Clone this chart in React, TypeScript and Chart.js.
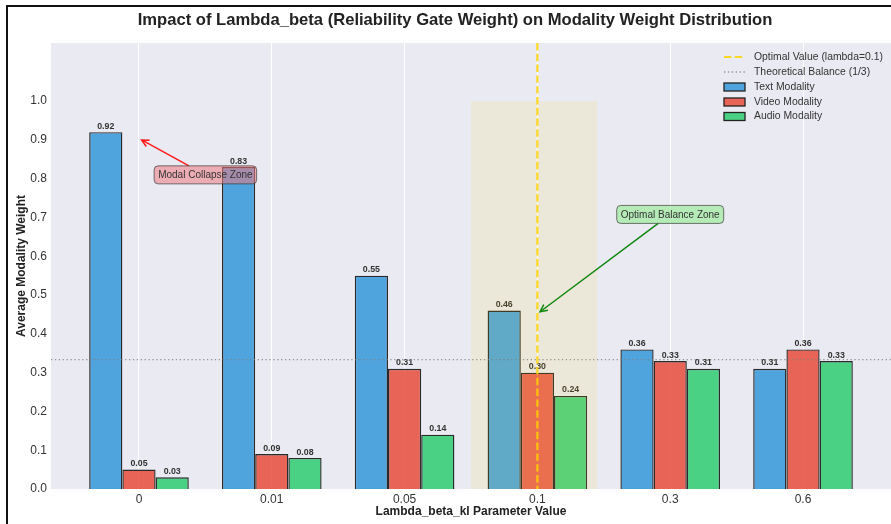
import React, { useEffect, useRef } from 'react';
import { Chart, registerables } from 'chart.js';

Chart.register(...registerables);

const FONT = "'Liberation Sans', Arial, Helvetica, sans-serif";

const categories = ['0', '0.01', '0.05', '0.1', '0.3', '0.6'];
const textValues = [0.92, 0.83, 0.55, 0.46, 0.36, 0.31];
const videoValues = [0.05, 0.09, 0.31, 0.30, 0.33, 0.36];
const audioValues = [0.03, 0.08, 0.14, 0.24, 0.31, 0.33];
const yTickValues = [0, 0.1, 0.2, 0.3, 0.4, 0.5, 0.6, 0.7, 0.8, 0.9, 1.0];
const seriesNames = ['Text Modality', 'Video Modality', 'Audio Modality'];
const optimalIndex = 3;
const balanceValue = 1 / 3;
const zoneRange = [2.5, 3.45];
const zoneTop = 1.0;

const TITLE = 'Impact of Lambda_beta (Reliability Gate Weight) on Modality Weight Distribution';
const X_TITLE = 'Lambda_beta_kl Parameter Value';
const Y_TITLE = 'Average Modality Weight';

const BAR_COLORS = ['rgba(52,152,219,0.85)', 'rgba(231,76,60,0.85)', 'rgba(46,204,113,0.85)'];

function drawArrow(ctx: CanvasRenderingContext2D, x0: number, y0: number, x1: number, y1: number, color: string) {
  ctx.save();
  ctx.strokeStyle = color;
  ctx.lineWidth = 1.5;
  ctx.beginPath();
  ctx.moveTo(x0, y0);
  ctx.lineTo(x1, y1);
  ctx.stroke();
  const ang = Math.atan2(y1 - y0, x1 - x0);
  const L = 8;
  const a = 0.45;
  ctx.beginPath();
  ctx.moveTo(x1 - L * Math.cos(ang - a), y1 - L * Math.sin(ang - a));
  ctx.lineTo(x1, y1);
  ctx.lineTo(x1 - L * Math.cos(ang + a), y1 - L * Math.sin(ang + a));
  ctx.stroke();
  ctx.restore();
}

function roundRect(ctx: CanvasRenderingContext2D, x: number, y: number, w: number, h: number, r: number) {
  ctx.beginPath();
  ctx.moveTo(x + r, y);
  ctx.lineTo(x + w - r, y);
  ctx.quadraticCurveTo(x + w, y, x + w, y + r);
  ctx.lineTo(x + w, y + h - r);
  ctx.quadraticCurveTo(x + w, y + h, x + w - r, y + h);
  ctx.lineTo(x + r, y + h);
  ctx.quadraticCurveTo(x, y + h, x, y + h - r);
  ctx.lineTo(x, y + r);
  ctx.quadraticCurveTo(x, y, x + r, y);
  ctx.closePath();
}

function annotate(
  chart: any,
  text: string,
  tip: [number, number],
  at: [number, number],
  fill: string,
  arrowColor: string
) {
  const ctx: CanvasRenderingContext2D = chart.ctx;
  const xs = chart.scales.x;
  const ys = chart.scales.y;
  const tx = xs.getPixelForValue(tip[0]);
  const ty = ys.getPixelForValue(tip[1]);
  const cx = xs.getPixelForValue(at[0]);
  const cy = ys.getPixelForValue(at[1]);
  ctx.save();
  ctx.font = `10px ${FONT}`;
  const w = ctx.measureText(text).width + 8;
  const h = 18;
  const bx = cx - w / 2;
  const by = cy - h / 2;
  const dx = tx - cx;
  const dy = ty - cy;
  let t = 1;
  if (dx !== 0) t = Math.min(t, Math.abs((w / 2) / dx));
  if (dy !== 0) t = Math.min(t, Math.abs((h / 2) / dy));
  drawArrow(ctx, cx + dx * t, cy + dy * t, tx, ty, arrowColor);
  roundRect(ctx, bx, by, w, h, 4);
  ctx.fillStyle = fill;
  ctx.fill();
  ctx.strokeStyle = 'rgba(60,60,60,0.7)';
  ctx.lineWidth = 1;
  ctx.stroke();
  ctx.fillStyle = '#333';
  ctx.textAlign = 'center';
  ctx.textBaseline = 'middle';
  ctx.fillText(text, cx, cy + 0.5);
  ctx.restore();
}

const overlayPlugin = {
  id: 'overlay',
  beforeDraw(chart: any) {
    const ctx: CanvasRenderingContext2D = chart.ctx;
    const { left, right, top, bottom } = chart.chartArea;
    ctx.save();
    ctx.fillStyle = '#ffffff';
    ctx.fillRect(0, 0, chart.width, chart.height);
    ctx.fillStyle = '#EAEAF2';
    ctx.fillRect(left, top, right - left, bottom - top);
    ctx.fillStyle = '#111';
    ctx.fillRect(6, 5, chart.width - 6, 2);
    ctx.fillRect(6, 5, 2, chart.height - 5);
    ctx.restore();
  },
  afterDatasetsDraw(chart: any) {
    const ctx: CanvasRenderingContext2D = chart.ctx;
    const xs = chart.scales.x;
    const ys = chart.scales.y;
    const { left, right, top, bottom } = chart.chartArea;

    // value labels
    ctx.save();
    ctx.font = `bold 8.8px ${FONT}`;
    ctx.fillStyle = '#333';
    ctx.textAlign = 'center';
    ctx.textBaseline = 'bottom';
    chart.data.datasets.forEach((ds: any, di: number) => {
      const meta = chart.getDatasetMeta(di);
      meta.data.forEach((el: any, i: number) => {
        const v = ds.data[i].y;
        ctx.fillText(v.toFixed(2), el.x, el.y - 1.5);
      });
    });
    ctx.restore();

    // optimal zone shade
    ctx.save();
    const zx0 = xs.getPixelForValue(zoneRange[0]);
    const zx1 = xs.getPixelForValue(zoneRange[1]);
    const zy0 = ys.getPixelForValue(zoneTop);
    const zy1 = ys.getPixelForValue(0);
    ctx.fillStyle = 'rgba(255,215,0,0.1)';
    ctx.fillRect(zx0, zy0, zx1 - zx0, zy1 - zy0);
    ctx.restore();

    // theoretical balance line
    ctx.save();
    const by = ys.getPixelForValue(balanceValue);
    ctx.strokeStyle = 'rgba(128,128,128,0.8)';
    ctx.lineWidth = 1.3;
    ctx.setLineDash([1.3, 2.6]);
    ctx.beginPath();
    ctx.moveTo(left, by);
    ctx.lineTo(right, by);
    ctx.stroke();
    ctx.restore();

    // optimal value line
    ctx.save();
    const ox = xs.getPixelForValue(optimalIndex);
    ctx.strokeStyle = 'rgba(255,210,0,0.85)';
    ctx.lineWidth = 2.2;
    ctx.setLineDash([7.4, 3.4]);
    ctx.beginPath();
    ctx.moveTo(ox, top);
    ctx.lineTo(ox, bottom);
    ctx.stroke();
    ctx.restore();

    // annotations
    annotate(chart, 'Modal Collapse Zone', [0.02, 0.9], [0.5, 0.81], 'rgba(236,120,128,0.55)', '#ff1a1a');
    annotate(chart, 'Optimal Balance Zone', [3.02, 0.457], [4.0, 0.708], 'rgba(150,235,150,0.65)', '#118811');

    // legend
    ctx.save();
    ctx.font = `10.4px ${FONT}`;
    ctx.textBaseline = 'middle';
    ctx.textAlign = 'left';
    const lx = 724;
    const tx = 754;
    const rows = [57, 72, 87, 102, 116.5];
    ctx.strokeStyle = 'rgba(255,210,0,0.85)';
    ctx.lineWidth = 2.2;
    ctx.setLineDash([7.4, 3.4]);
    ctx.beginPath();
    ctx.moveTo(lx, rows[0]);
    ctx.lineTo(lx + 21, rows[0]);
    ctx.stroke();
    ctx.strokeStyle = 'rgba(128,128,128,0.8)';
    ctx.lineWidth = 1.3;
    ctx.setLineDash([1.3, 2.6]);
    ctx.beginPath();
    ctx.moveTo(lx, rows[1]);
    ctx.lineTo(lx + 21, rows[1]);
    ctx.stroke();
    ctx.setLineDash([]);
    for (let i = 0; i < 3; i++) {
      const ry = rows[2 + i];
      ctx.fillStyle = BAR_COLORS[i];
      ctx.fillRect(lx, ry - 4, 21, 8);
      ctx.strokeStyle = '#222';
      ctx.lineWidth = 1.3;
      ctx.strokeRect(lx, ry - 4, 21, 8);
    }
    ctx.fillStyle = '#333';
    const labels = ['Optimal Value (lambda=0.1)', 'Theoretical Balance (1/3)', ...seriesNames];
    labels.forEach((l, i) => ctx.fillText(l, tx, rows[i]));
    ctx.restore();

    // titles
    ctx.save();
    ctx.fillStyle = '#222';
    ctx.textAlign = 'center';
    ctx.textBaseline = 'middle';
    ctx.font = `bold 16.6px ${FONT}`;
    ctx.fillText(TITLE, 455, 20);
    ctx.font = `bold 12px ${FONT}`;
    ctx.fillText(X_TITLE, (left + right) / 2, 512);
    ctx.translate(22, (top + bottom) / 2);
    ctx.rotate(-Math.PI / 2);
    ctx.fillText(Y_TITLE, 0, 0);
    ctx.restore();
  },
};

export default function App() {
  const ref = useRef<HTMLCanvasElement>(null);
  useEffect(() => {
    const canvas = ref.current!;
    const mk = (vals: number[]) => vals.map((v, i) => ({ x: i, y: v }));
    const chart = new Chart(canvas, {
      type: 'bar',
      data: {
        datasets: [textValues, videoValues, audioValues].map((vals, i) => ({
          label: seriesNames[i],
          data: mk(vals),
          backgroundColor: BAR_COLORS[i],
          borderColor: '#2a2a2a',
          borderWidth: 1.4,
          categoryPercentage: 0.75,
          barPercentage: 1.0,
        })),
      } as any,
      options: {
        responsive: false,
        devicePixelRatio: 1,
        animation: false,
        events: [],
        layout: { padding: { top: 43, left: 0, right: 0, bottom: 0 } },
        plugins: { legend: { display: false }, title: { display: false }, tooltip: { enabled: false } },
        scales: {
          x: {
            type: 'linear',
            min: -0.6625,
            max: 5.6625,
            offset: false,
            afterBuildTicks: (s: any) => {
              s.ticks = categories.map((_, i) => ({ value: i }));
            },
            afterFit: (s: any) => {
              s.height = 35;
            },
            ticks: {
              callback: (v: any) => categories[Math.round(Number(v))] ?? '',
              font: { family: FONT, size: 12 },
              color: '#333',
              padding: 3,
              maxRotation: 0,
              autoSkip: false,
            },
            grid: { color: '#ffffff', lineWidth: 1, drawTicks: false, offset: false },
            border: { display: false },
          },
          y: {
            type: 'linear',
            min: 0,
            max: 1.15,
            afterBuildTicks: (s: any) => {
              s.ticks = yTickValues.map((v) => ({ value: v }));
            },
            afterFit: (s: any) => {
              s.width = 51;
            },
            ticks: {
              callback: (v: any) => Number(v).toFixed(1),
              font: { family: FONT, size: 12 },
              color: '#333',
              padding: 4,
            },
            grid: { display: false, drawTicks: false },
            border: { display: false },
          },
        },
      } as any,
      plugins: [overlayPlugin],
    });
    return () => chart.destroy();
  }, []);
  return (
    <div style={{ width: 891, height: 524 }}>
      <style>{'body{margin:0}'}</style>
      <canvas ref={ref} width={891} height={524} style={{ display: 'block' }} />
    </div>
  );
}
